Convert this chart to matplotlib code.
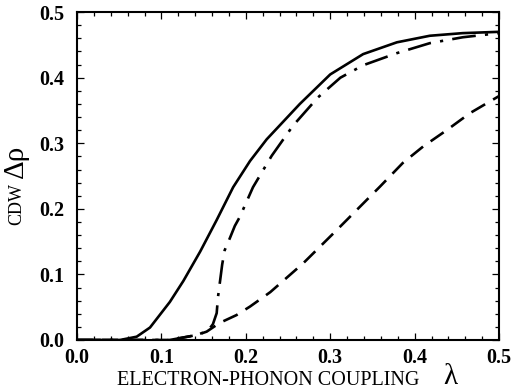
import matplotlib
matplotlib.use("Agg")
import matplotlib.pyplot as plt
from matplotlib.ticker import MultipleLocator

# solid curve
lam_solid = [0.0, 0.051, 0.0707, 0.0865, 0.110, 0.126, 0.146, 0.1655, 0.185,
             0.205, 0.2247, 0.264, 0.30, 0.339, 0.379, 0.418, 0.457, 0.5]
rho_solid = [0.0, 0.0, 0.005, 0.019, 0.058, 0.090, 0.135, 0.183, 0.233,
             0.273, 0.306, 0.360, 0.405, 0.436, 0.454, 0.464, 0.468, 0.470]

# dash-dot curve
lam_dashdot = [0.0, 0.11, 0.142, 0.155, 0.161, 0.1655, 0.167, 0.1695, 0.172, 0.175,
               0.181, 0.187, 0.193, 0.2085, 0.2307, 0.256, 0.2855, 0.312, 0.339,
               0.379, 0.418, 0.457, 0.5]
rho_dashdot = [0.0, 0.0, 0.0076, 0.014, 0.024, 0.041, 0.065, 0.090, 0.115, 0.137,
               0.155, 0.174, 0.188, 0.233, 0.281, 0.327, 0.370, 0.400, 0.419,
               0.4375, 0.4527, 0.4617, 0.468]

# dashed curve
lam_dashed = [0.0, 0.11, 0.142, 0.1536, 0.169, 0.189, 0.205, 0.229, 0.268, 0.308,
              0.359, 0.386, 0.41, 0.438, 0.4656, 0.5]
rho_dashed = [0.0, 0.0, 0.0076, 0.0127, 0.026, 0.038, 0.051, 0.073, 0.117, 0.168,
              0.234, 0.270, 0.295, 0.320, 0.346, 0.372]

XTICKS = [0.0, 0.1, 0.2, 0.3, 0.4, 0.5]
YTICKS = [0.0, 0.1, 0.2, 0.3, 0.4, 0.5]

plt.rcParams.update({
    "font.family": ["Liberation Serif", "DejaVu Serif"],
})

fig = plt.figure(figsize=(5.22, 3.92), dpi=100)
ax = fig.add_axes([0.1475, 0.1327, 0.8085, 0.8363])

ax.plot(lam_solid, rho_solid, color="black", lw=1.9, ls="-")
ax.plot(lam_dashdot, rho_dashdot, color="black", lw=1.9,
        dashes=(9, 3.5, 1.2, 3.5))
ax.plot(lam_dashed, rho_dashed, color="black", lw=1.9, dashes=(6, 3.5))

ax.set_xlim(0, 0.5)
ax.set_ylim(0, 0.5)
ax.set_xticks(XTICKS)
ax.set_yticks(YTICKS)
ax.set_xticklabels([f"{v:.1f}" for v in XTICKS])
ax.set_yticklabels([f"{v:.1f}" for v in YTICKS])
ax.xaxis.set_minor_locator(MultipleLocator(0.02))
ax.yaxis.set_minor_locator(MultipleLocator(0.02))
ax.tick_params(which="both", direction="in", top=True, right=True,
               width=0.9, labelsize=14.5)
ax.tick_params(axis="x", which="major", pad=6)
ax.tick_params(axis="y", which="major", pad=9)
ax.tick_params(which="major", length=5)
ax.tick_params(which="minor", length=3)
for lab in ax.get_xticklabels() + ax.get_yticklabels():
    lab.set_fontweight("bold")
for sp in ax.spines.values():
    sp.set_linewidth(1.5)

fig.text(0.513, 0.006, "ELECTRON-PHONON COUPLING", ha="center", va="bottom",
         fontsize=14.5)
fig.text(0.862, 0.006, "λ", ha="center", va="bottom", fontsize=21)

fig.text(0.032, 0.48, "CDW", rotation=90, ha="center", va="center", fontsize=13)
fig.text(0.030, 0.588, "Δρ", rotation=90, ha="center", va="center",
         fontsize=21)

fig.savefig("out.png", dpi=100)
